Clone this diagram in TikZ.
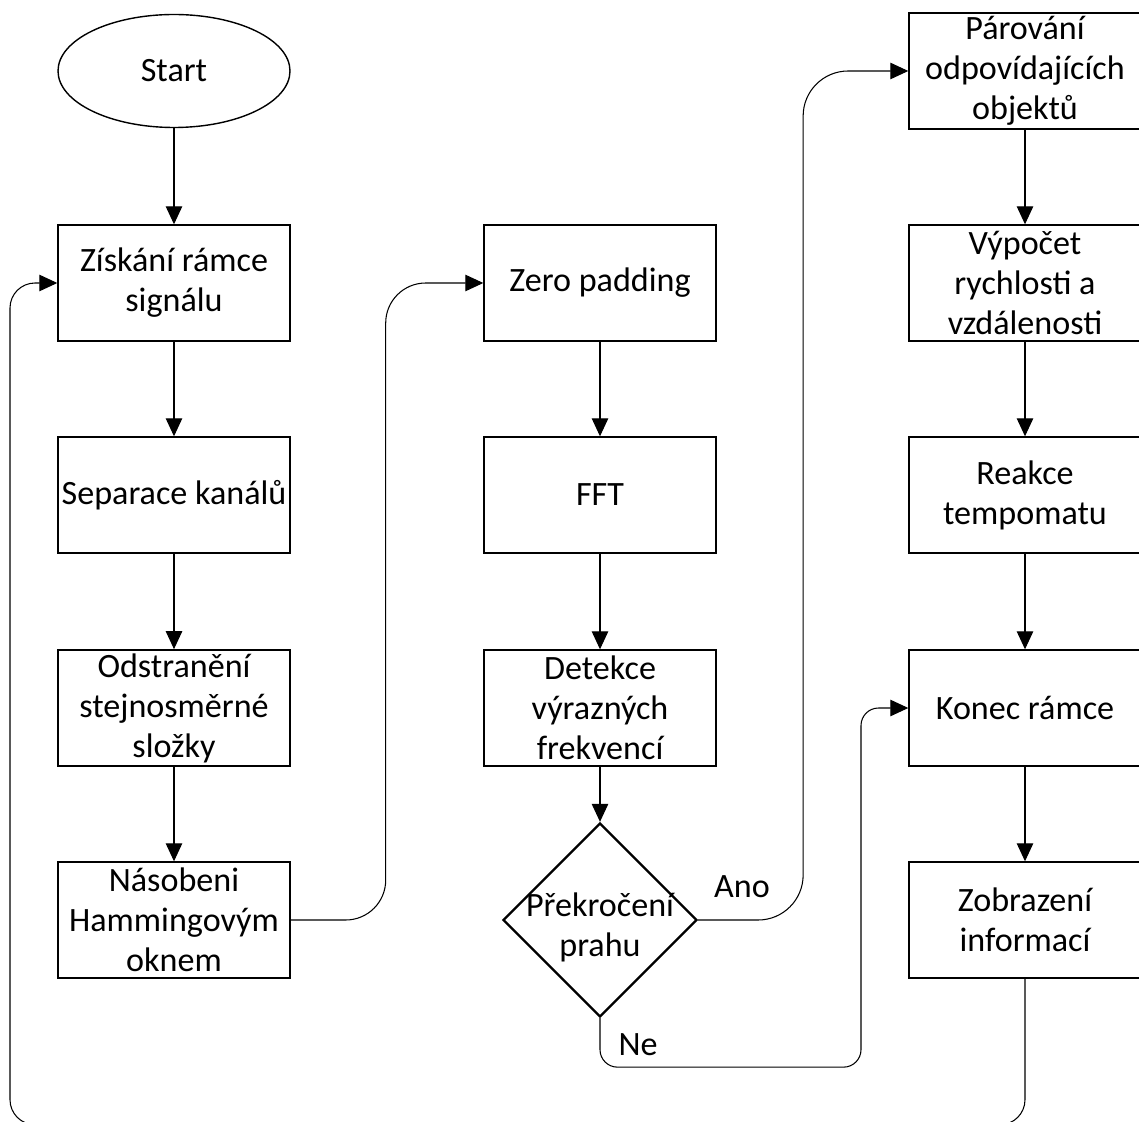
\documentclass[tikz,border=0pt]{standalone}
\usepackage{fontspec}
\setmainfont{Carlito}
\usepackage{tikz}
\usetikzlibrary{shapes.geometric,arrows.meta}

\tikzset{
	box/.style={draw, line width=0.8pt, minimum width=4.64cm, minimum height=2.32cm, align=center, inner sep=2pt},
	startend/.style={draw, ellipse, line width=0.8pt, minimum width=4.64cm, minimum height=2.26cm},
	decision/.style={draw, diamond, line width=1.3pt, minimum width=3.88cm, minimum height=3.88cm, inner sep=0pt},
	line/.style={line width=0.6pt, ->}
}

\begin{document}
\begin{tikzpicture}[>={Triangle[length=0.36cm,width=0.33cm]}, font=\fontsize{19.4}{22.8}\selectfont]
		\useasboundingbox (0,0) rectangle (22.78,-22.44);
		%Sloupec 1
		\node [startend] (start) at (3.48,-1.42) {Start};
		\node [box] (zis) at (3.48,-5.66) {Získání rámce\\signálu};
		\node [box] (sep) at (3.48,-9.9) {Separace kanálů};
		\node [box] (ods) at (3.48,-14.16) {Odstranění\\stejnosměrné\\složky};
		\node [box] (nas) at (3.48,-18.4) {Násobeni\\Hammingovým\\oknem};
		%Sloupec 2
		\node [box] (zero) at (12,-5.66) {Zero padding};
		\node [box] (fft) at (12,-9.9) {FFT};
		\node [box] (det) at (12,-14.16) {Detekce\\výrazných\\frekvencí};
		\node [decision] (dec) at (12,-18.4) {};
		\node [align=center] (dectext) at ([yshift=-0.14cm]dec.center) {Překročení\\prahu};
		%Sloupec 3
		\node [box] (par) at (20.5,-1.42) {Párování\\odpovídajících\\objektů};
		\node [box] (vyp) at (20.5,-5.66) {Výpočet\\rychlosti a\\vzdálenosti};
		\node [box] (rea) at (20.5,-9.9) {Reakce\\tempomatu};
		\node [box] (kon) at (20.5,-14.16) {Konec rámce};
		\node [box] (zob) at (20.5,-18.4) {Zobrazení\\informací};
		%Sipky
		\draw [line] (start) -- (zis);
		\draw [line] (zis) -- (sep);
		\draw [line] (sep) -- (ods);
		\draw [line] (ods) -- (nas);
		\draw [line, rounded corners=0.8cm] (nas.east) -- ++(1.9,0) |- (zero.west);
		\draw [line] (zero) -- (fft);
		\draw [line] (fft) -- (det);
		\draw [line] (det) -- (dec);
		\draw [line, rounded corners=0.9cm] (dec.east) -- ++(2.1,0) |- (par.west);
		\draw [line, rounded corners=0.35cm] (dec.south) -- ++(0,-0.98) -- ++(5.22,0) |- (kon.west);
		\draw [line] (par) -- (vyp);
		\draw [line] (vyp) -- (rea);
		\draw [line] (rea) -- (kon);
		\draw [line] (kon) -- (zob);
		\draw [line, rounded corners=0.5cm] (zob.south) -- ++(0,-2.92) -- ++(-20.3,0) |- (zis.west);
		%Popisky
		\node (ano) at (14.84,-17.74) {Ano};
		\node (ne) at (12.76,-20.9) {Ne};
	\end{tikzpicture}
\end{document}
